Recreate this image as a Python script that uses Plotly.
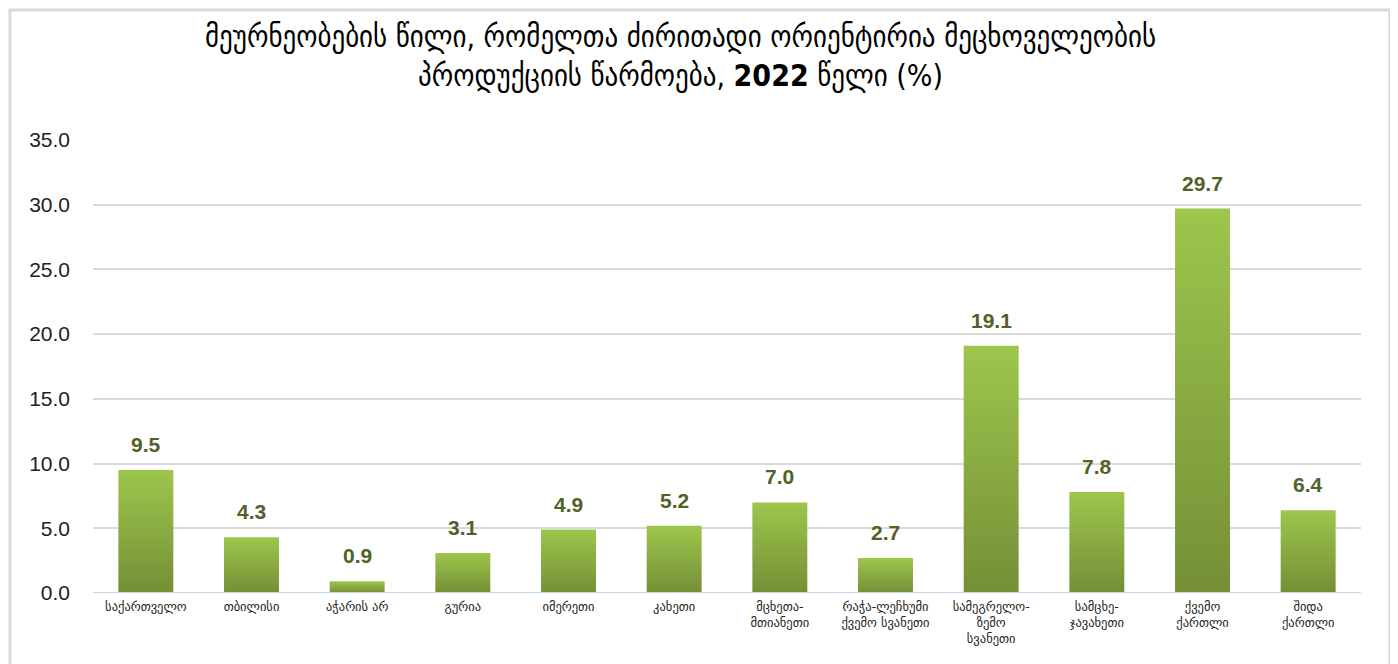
import plotly.graph_objects as go

categories = ["საქართველო", "თბილისი", "აჭარის არ", "გურია", "იმერეთი", "კახეთი",
              "მცხეთა-<br>მთიანეთი", "რაჭა-ლეჩხუმი<br>ქვემო სვანეთი", "სამეგრელო-<br>ზემო<br>სვანეთი",
              "სამცხე-<br>ჯავახეთი", "ქვემო<br>ქართლი", "შიდა<br>ქართლი"]
values = [9.5, 4.3, 0.9, 3.1, 4.9, 5.2, 7.0, 2.7, 19.1, 7.8, 29.7, 6.4]
y_ticks = [0, 5, 10, 15, 20, 25, 30, 35]
title_text = "მეურნეობების წილი, რომელთა ძირითადი ორიენტირია მეცხოველეობის<br>პროდუქციის წარმოება, <b>2022</b> წელი (%)"

BAR_W = 0.52
TOP_C = "#9DC64C"
BOT_C = "#748F36"
LABEL_C = "#4F6228"

fig = go.Figure()
for i, v in enumerate(values):
    x0, x1 = i - BAR_W / 2, i + BAR_W / 2
    fig.add_trace(go.Scatter(
        x=[x0, x1, x1, x0, x0], y=[0, 0, v, v, 0],
        mode="lines", line=dict(width=0), fill="toself",
        fillgradient=dict(type="vertical", colorscale=[[0, BOT_C], [1, TOP_C]]),
        hoverinfo="skip", showlegend=False))

fig.add_trace(go.Scatter(
    x=list(range(len(values))), y=values, mode="markers",
    marker=dict(size=1, opacity=0), showlegend=False,
    hovertemplate="%{y:.1f}<extra></extra>"))

for i, v in enumerate(values):
    fig.add_annotation(x=i, y=v, text=f"<b>{v:.1f}</b>", showarrow=False,
                       yanchor="bottom", yshift=12,
                       font=dict(family="Liberation Sans, Arial", size=21, color=LABEL_C))

fig.add_annotation(xref="paper", yref="paper", x=0.4637, y=1.185, xanchor="center", yanchor="middle",
                   text=title_text, showarrow=False, align="center",
                   font=dict(family="DejaVu Sans Condensed, DejaVu Sans, Liberation Sans", size=30, color="black"))

fig.update_layout(
    width=1390, height=656,
    margin=dict(l=85, r=37, t=132, b=71),
    paper_bgcolor="white", plot_bgcolor="white",
    xaxis=dict(range=[-0.5, len(values) - 0.5], tickmode="array", automargin=False,
               tickvals=list(range(len(values))), ticktext=categories,
               showgrid=False, zeroline=False, showline=False, ticks="", ticklabelstandoff=4,
               tickfont=dict(family="DejaVu Sans", size=12.5, color="#222")),
    yaxis=dict(range=[0, 35], tickmode="array", tickvals=y_ticks, automargin=False,
               ticktext=[f"{t:.1f}" for t in y_ticks],
               showgrid=True, gridcolor="#D9D9D9", gridwidth=1.5,
               zeroline=False, showline=False, ticks="", ticklabelstandoff=22,
               tickfont=dict(family="Liberation Sans, Arial", size=21, color="#222")),
    shapes=[
        dict(type="line", xref="paper", yref="y", x0=0, x1=1, y0=0, y1=0,
             line=dict(color="#C8D6EC", width=2), layer="above"),
        dict(type="rect", xref="paper", yref="paper", x0=-0.0655, x1=1.0229, y0=-0.19, y1=1.287,
             line=dict(color="#D9D9D9", width=3), fillcolor="rgba(0,0,0,0)"),
    ],
)

fig.write_html("out.html")
